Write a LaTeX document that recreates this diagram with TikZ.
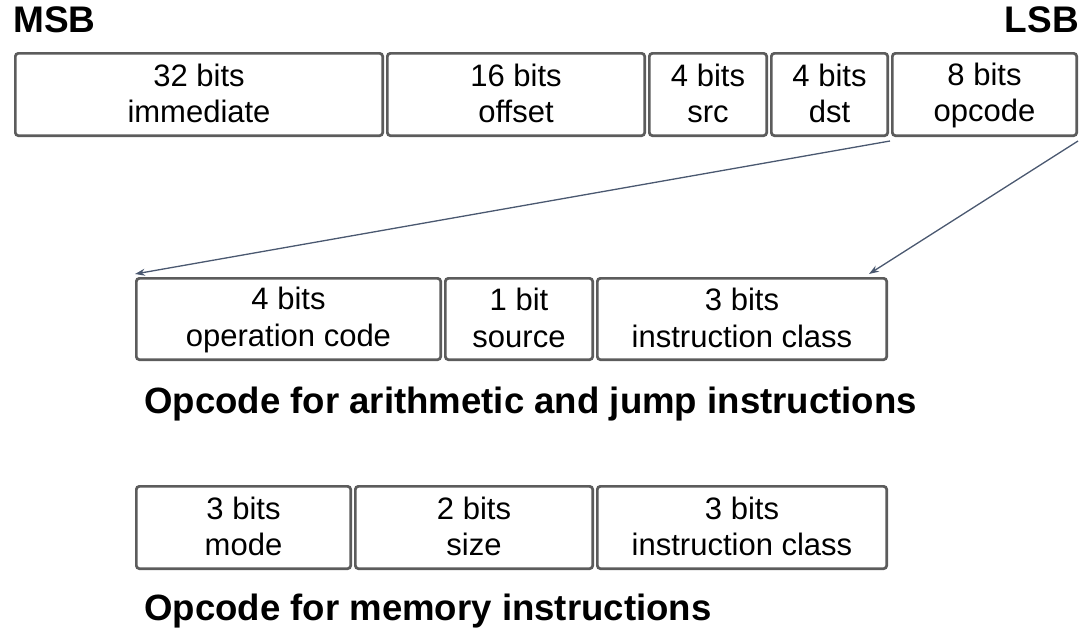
\documentclass[tikz,border=0pt]{standalone}
\usepackage{fontspec}
\setmainfont{Liberation Sans}
\usetikzlibrary{arrows.meta,calc}
\definecolor{boxline}{HTML}{5C5C5C}
\definecolor{linkline}{HTML}{4A5870}
% equal line heights for every field label
\newcommand{\ls}{\rule[-4pt]{0pt}{28pt}}
\begin{document}
\begin{tikzpicture}[x=1pt,y=-1pt,
  field/.style={draw=boxline,line width=2.7pt,rounded corners=3pt,fill=white,
    inner sep=0pt,align=center,font=\fontsize{31}{36.5}\selectfont},
  heading/.style={font=\bfseries\fontsize{36.6}{40}\selectfont,inner sep=0pt},
  edgelabel/.style={font=\bfseries\fontsize{37}{40}\selectfont,inner sep=0pt},
  link/.style={draw=linkline,line width=1.3pt,-{Stealth[length=10pt,width=7pt]}}]
\useasboundingbox (0,0) rectangle (1090,629);

% byte order labels
\node[edgelabel,anchor=base west] (msb) at (13,32) {MSB};
\node[edgelabel,anchor=base east] (lsb) at (1079,32) {LSB};

% a field box from its outer left/right/top/bottom edges
\newcommand{\fieldbox}[6]{%
  \node[field,minimum width={#3-#2-2.7},minimum height={#5-#4-2.7}]
    (#1) at ({(#2+#3)/2},{(#4+#5)/2}) {#6};}

% instruction word
\fieldbox{a1}{14}{384}{52}{137}{32 bits\ls\\immediate\ls}
\fieldbox{a2}{386}{646}{52}{137}{16 bits\ls\\offset\ls}
\fieldbox{a3}{648}{768}{52}{137}{4 bits\ls\\src\ls}
\fieldbox{a4}{770}{889}{52}{137}{4 bits\ls\\dst\ls}
\fieldbox{a5}{891}{1078}{52}{137}{8 bits\ls\\opcode\ls}

% opcode layout: arithmetic and jump
\fieldbox{b1}{135}{442}{277}{361}{4 bits\ls\\operation code\ls}
\fieldbox{b2}{444}{594}{277}{361}{1 bit\ls\\source\ls}
\fieldbox{b3}{596}{888}{277}{361}{3 bits\ls\\instruction class\ls}
\node[heading,anchor=base west] (t1) at (144,413) {Opcode for arithmetic and jump instructions};

% opcode layout: memory
\fieldbox{c1}{135}{352}{485}{570}{3 bits\ls\\mode\ls}
\fieldbox{c2}{354}{594}{485}{570}{2 bits\ls\\size\ls}
\fieldbox{c3}{596}{888}{485}{570}{3 bits\ls\\instruction class\ls}
\node[heading,anchor=base west] (t2) at (144,620) {Opcode for memory instructions};

% expansion of the opcode field
\coordinate (o1) at ($(a5.south west)+(-1,4)$);
\coordinate (o2) at ($(a5.south east)+(0,4)$);
\coordinate (e1) at ($(b1.north west)+(0,-3)$);
\coordinate (e2) at ($(b3.north east)+(-19,-3)$);
\draw[link] (o1) -- (e1);
\draw[link] (o2) -- (e2);
\end{tikzpicture}
\end{document}
